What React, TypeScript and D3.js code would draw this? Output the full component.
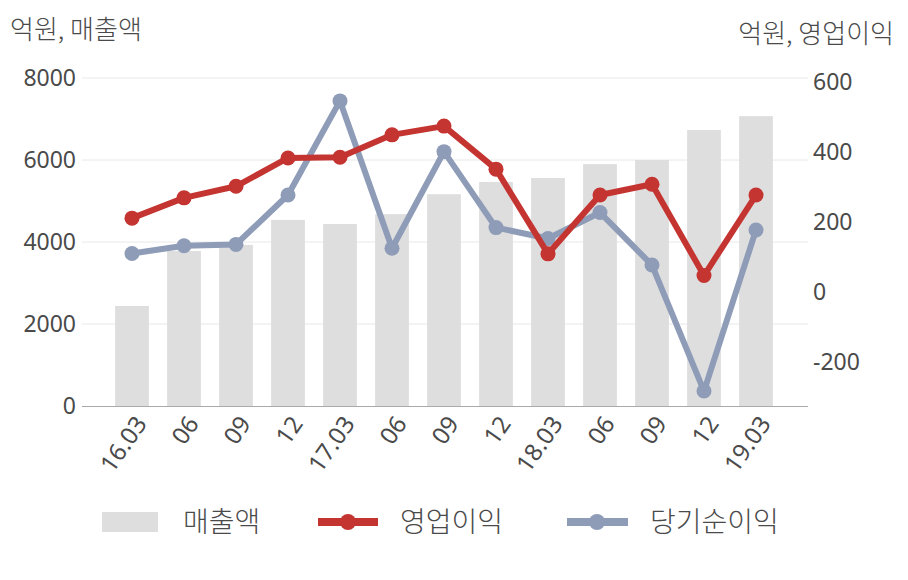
import React from "react";
import * as d3 from "d3";

const categories = ["16.03", "06", "09", "12", "17.03", "06 ", "09 ", "12 ", "18.03", "06  ", "09  ", "12  ", "19.03"];
const sales = [2440, 3780, 3930, 4540, 4440, 4680, 5165, 5465, 5560, 5900, 6000, 6730, 7070];
const opProfit = [211, 269, 302, 383, 385, 449, 474, 351, 109, 277, 308, 47, 277];
const netIncome = [110, 132, 136, 277, 546, 125, 401, 184, 153, 227, 77, -283, 177];
const leftTicks = [0, 2000, 4000, 6000, 8000];
const rightTicks = [-200, 0, 200, 400, 600];

const W = 908, H = 580;
const FONT = "'Noto Sans', 'Noto Sans CJK KR', sans-serif";
const KFONT = "'Noto Sans CJK KR', sans-serif";
const RED = "#c43431";
const BLUE = "#8e9cb8";
const BAR = "#dedede";
const TXT = "#4a4a4a";

export default function App() {
  const x = d3.scaleBand<string>().domain(categories).range([106, 782]).paddingInner(0.35).paddingOuter(0.175);
  const yL = d3.scaleLinear().domain([0, 8000]).range([406, 78]);
  const yR = d3.scaleLinear().domain([-325.7, 611.4]).range([406, 78]);
  const cx = (i: number) => (x(categories[i]) as number) + x.bandwidth() / 2;
  const line = d3.line<number>().x((_, i) => cx(i)).y((d) => yR(d));

  return (
    <svg width={W} height={H} style={{ position: "absolute", left: 0, top: 0, background: "#fff" }} fontFamily={FONT}>
      <text x={10} y={39} fontSize={26} fontWeight={300} fontFamily={KFONT} fill={TXT}>억원, 매출액</text>
      <text x={894} y={43} fontSize={26} fontWeight={300} fontFamily={KFONT} fill={TXT} textAnchor="end">억원, 영업이익</text>
      {leftTicks.map((t) => (
        <g key={"l" + t}>
          {t > 0 && <line x1={82} x2={808} y1={yL(t)} y2={yL(t)} stroke="#e8e8e8" strokeWidth={1} />}
          <text x={76} y={yL(t)} dy="0.35em" textAnchor="end" fontSize={23} fill={TXT}>{t}</text>
        </g>
      ))}
      {rightTicks.map((t) => (
        <text key={"r" + t} x={813} y={yR(t)} dy="0.35em" fontSize={23} fill={TXT}>{t}</text>
      ))}
      {sales.map((v, i) => (
        <rect key={"b" + i} x={x(categories[i])} y={yL(v)} width={x.bandwidth()} height={yL(0) - yL(v)} fill={BAR} />
      ))}
      <line x1={82} x2={808} y1={406.5} y2={406.5} stroke="#aaaaaa" strokeWidth={1.2} />
      {categories.map((c, i) => (
        <text key={"x" + i} transform={`translate(${cx(i) + 9},${419}) rotate(-55)`} textAnchor="end" dy="0.35em" fontSize={24} fill={TXT}>{c.trim()}</text>
      ))}
      <path d={line(netIncome) || ""} fill="none" stroke={BLUE} strokeWidth={6} strokeLinejoin="round" />
      {netIncome.map((v, i) => <circle key={"n" + i} cx={cx(i)} cy={yR(v)} r={7.5} fill={BLUE} />)}
      <path d={line(opProfit) || ""} fill="none" stroke={RED} strokeWidth={6} strokeLinejoin="round" />
      {opProfit.map((v, i) => <circle key={"o" + i} cx={cx(i)} cy={yR(v)} r={7.5} fill={RED} />)}
      <g fontFamily={KFONT} fontWeight={300}>
        <rect x={102} y={512} width={56} height={20} fill={BAR} />
        <text x={183} y={522} dy="0.35em" fontSize={28} fill={TXT}>매출액</text>
        <line x1={318} x2={378} y1={522} y2={522} stroke={RED} strokeWidth={8} />
        <circle cx={348} cy={522} r={8} fill={RED} />
        <text x={400} y={522} dy="0.35em" fontSize={28} fill={TXT}>영업이익</text>
        <line x1={567} x2={628} y1={522} y2={522} stroke={BLUE} strokeWidth={8} />
        <circle cx={597} cy={522} r={8} fill={BLUE} />
        <text x={650} y={522} dy="0.35em" fontSize={28} fill={TXT}>당기순이익</text>
      </g>
    </svg>
  );
}
